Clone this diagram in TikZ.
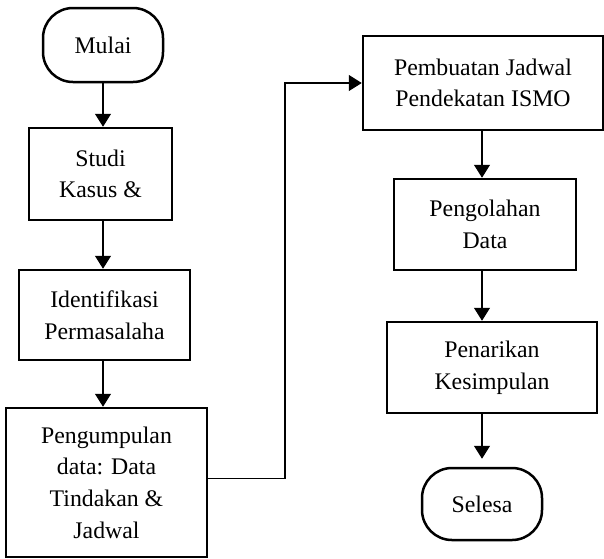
\documentclass[tikz,border=0pt]{standalone}
\usepackage{fontspec}
\setmainfont{Liberation Serif}
\usetikzlibrary{arrows.meta}
\begin{document}
\begin{tikzpicture}[x=0.5pt,y=-0.5pt,
  box/.style={draw,line width=1.25pt,align=center,inner sep=0pt,
    font=\fontsize{11.9}{15.8}\selectfont},
  term/.style={box,rounded corners=15pt},
  arr/.style={line width=0.55pt,-{Triangle[width=8pt,length=6.5pt]}}]
\useasboundingbox (0,0) rectangle (604,558);
\node[term,minimum width=60pt,minimum height=37pt] (mulai) at (103,45) {Mulai};
\node[box,minimum width=71.5pt,minimum height=46pt] (studi) at (100.5,174) {Studi\\Kasus \&};
\node[box,minimum width=85.5pt,minimum height=45pt] (iden) at (104.5,315) {Identifikasi\\Permasalaha};
\node[box,minimum width=100.5pt,minimum height=74.5pt] (peng) at (106.5,482.5) {Pengumpulan\\data: Data\\Tindakan \&\\Jadwal};
\node[box,minimum width=120pt,minimum height=47pt] (pemb) at (483,83) {Pembuatan Jadwal\\Pendekatan ISMO};
\node[box,minimum width=91pt,minimum height=45.5pt] (olah) at (485,224.5) {Pengolahan\\Data};
\node[box,minimum width=105pt,minimum height=45.5pt] (tarik) at (492,367.5) {Penarikan\\Kesimpulan};
\node[term,minimum width=60pt,minimum height=36pt] (selesa) at (482,504) {Selesa};
\coordinate (bend) at (285,83);
\draw[arr] (mulai.south) -- (mulai.south |- studi.north);
\draw[arr] (mulai.south |- studi.south) -- (mulai.south |- iden.north);
\draw[arr] (mulai.south |- iden.south) -- (mulai.south |- peng.north);
\draw[arr] ([yshift=2pt]peng.east) -| (bend) -- (pemb.west);
\draw[arr] (selesa.north |- pemb.south) -- (selesa.north |- olah.north);
\draw[arr] (selesa.north |- olah.south) -- (selesa.north |- tarik.north);
\draw[arr,shorten >=4pt] (selesa.north |- tarik.south) -- (selesa.north);
\end{tikzpicture}
\end{document}
